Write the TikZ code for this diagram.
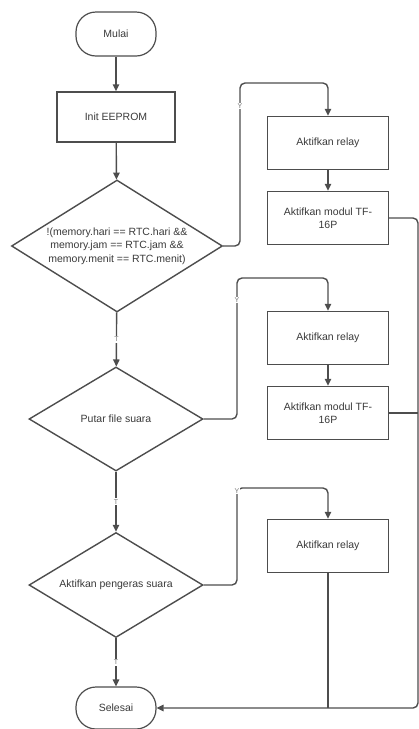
\documentclass[tikz,border=0pt]{standalone}
\usepackage{fontspec}
\setmainfont{Liberation Sans}
\usetikzlibrary{arrows.meta,positioning,shapes.geometric}
\definecolor{fcInk}{HTML}{3A3A3A}
\definecolor{fcLine}{HTML}{4D4D4D}
\definecolor{fcGray}{HTML}{777777}
\tikzset{
  every picture/.style={font=\fontsize{10.5}{13.5}\selectfont, text=fcInk},
  fc box/.style={draw=fcLine, line width=1.4pt, fill=white, align=center,
    minimum width=121pt, minimum height=53pt, inner sep=2pt},
  fc term/.style={draw=fcLine, line width=1.2pt, fill=white,
    rounded corners=20pt, minimum width=80pt, minimum height=44pt},
  fc dec/.style={diamond, draw=fcLine, line width=1.4pt, fill=white,
    align=center, inner sep=-8pt, shape aspect=1.6},
  fc arrow/.style={-{Triangle[length=7pt,width=6.5pt]},
    draw=fcLine, line width=1.4pt, line cap=butt},
  fc line/.style={draw=fcLine, line width=1.4pt, rounded corners=5pt},
  fc label/.style={font=\fontsize{7}{8}\selectfont, text=fcGray,
    fill=white, inner sep=1pt}
}

\begin{document}
\begin{tikzpicture}[x=1pt,y=-1pt]
  \useasboundingbox (0,0) rectangle (419,729);

  % main column
  \node[fc term] (start) at (116,34) {Mulai};
  \node[fc box, minimum width=118pt, minimum height=50pt] (init) at (116,117) {Init EEPROM};
  \node[fc dec, minimum width=211pt, minimum height=132pt] (d1) at (117,246)
    {!(memory.hari == RTC.hari \&\&\\memory.jam == RTC.jam \&\&\\memory.menit == RTC.menit)};
  \node[fc dec, minimum width=174pt, minimum height=104pt] (d2) at (116,419) {Putar file suara};
  \node[fc dec, minimum width=174pt, minimum height=105pt] (d3) at (116,585) {Aktifkan pengeras suara};
  \node[fc term, minimum height=42pt] (sel) at (116,708) {Selesai};

  % right column
  \node[fc box] (relay1) at (328,143) {Aktifkan relay};
  \node[fc box] (tf1) at (328,218) {Aktifkan modul TF-\\16P};
  \node[fc box] (relay2) at (328,338) {Aktifkan relay};
  \node[fc box] (tf2) at (328,413) {Aktifkan modul TF-\\16P};
  \node[fc box] (relay3) at (328,546) {Aktifkan relay};

  \coordinate (y1) at (240,83);
  \coordinate (y2) at (237,278);
  \coordinate (y3) at (237,488);
  \coordinate (rc) at (418,708);

  % arrows down the main column
  \draw[fc arrow] (start) -- (init);
  \draw[fc arrow] (init) -- (d1);
  \draw[fc arrow] (d1) -- (d2) node[fc label,midway] {T};
  \draw[fc arrow] (d2) -- (d3) node[fc label,midway] {T};
  \draw[fc arrow] (d3) -- (sel) node[fc label,midway] {T};

  % yes branches
  \draw[fc arrow, rounded corners=5pt] (d1.east) -| (y1) -| (relay1.north);
  \node[fc label] (ylab1) at (240,106) {Y};
  \draw[fc arrow] (relay1) -- (tf1);
  \draw[fc arrow, rounded corners=5pt] (d2.east) -| (y2) -| (relay2.north);
  \node[fc label] (ylab2) at (237,300) {Y};
  \draw[fc arrow] (relay2) -- (tf2);
  \draw[fc arrow, rounded corners=5pt] (d3.east) -| (y3) -| (relay3.north);
  \node[fc label] (ylab3) at (237,491) {Y};

  % back to Selesai
  \draw[fc line, fc arrow, rounded corners=5pt] (tf1.east) -| (rc) -- (sel.east);
  \draw[fc line] (tf2.east) -- (tf2.east -| rc);
  \draw[fc line] (relay3.south) -- (relay3.south |- sel.east);
\end{tikzpicture}
\end{document}
